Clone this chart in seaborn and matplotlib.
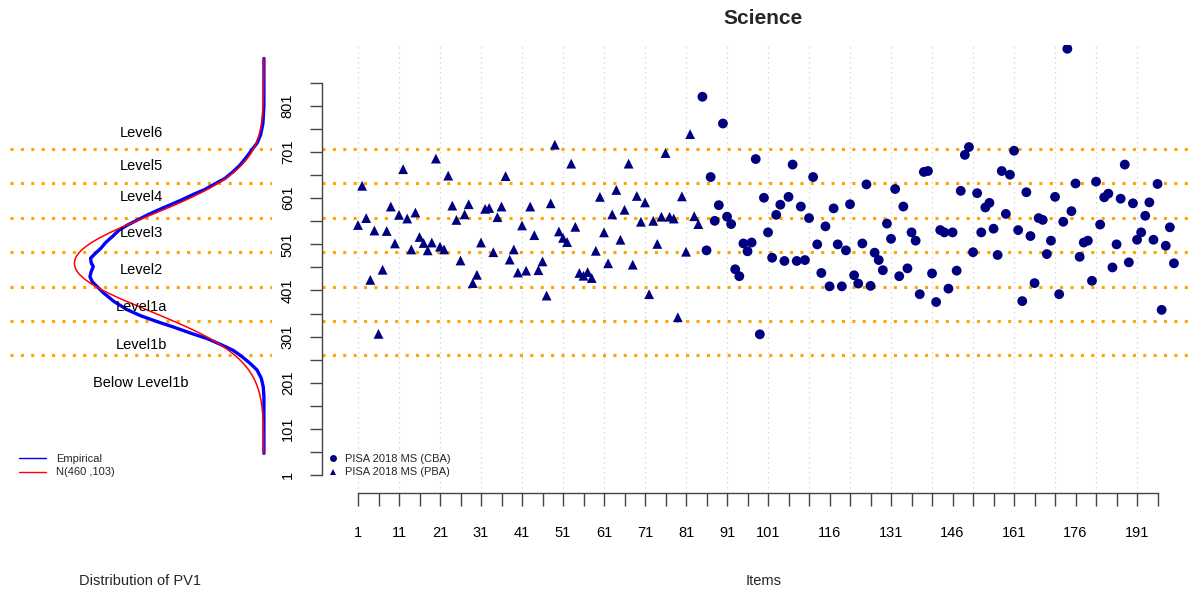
import numpy as np
import pandas as pd
import matplotlib
matplotlib.use("Agg")
import matplotlib.pyplot as plt
import seaborn as sns
from matplotlib.lines import Line2D

sns.set_theme(style="white")
plt.rcParams['font.family'] = ['Liberation Sans', 'DejaVu Sans']

# ---------------- data ----------------
pba_values = [543, 628, 558, 424, 531, 307, 446, 530, 583, 503,
              565, 664, 557, 490, 570, 517, 504, 488, 505, 687,
              496, 490, 650, 585, 554, 466, 566, 588, 417, 435,
              505, 578, 580, 484, 560, 583, 649, 468, 490, 440,
              542, 444, 583, 521, 445, 464, 390, 590, 717, 529,
              515, 506, 676, 539, 439, 433, 441, 428, 487, 604,
              527, 460, 566, 619, 511, 576, 676, 457, 606, 550,
              592, 393, 552, 502, 561, 699, 561, 557, 343, 605,
              485, 740, 562, 545]
cba_values = [821, 488, 647, 552, 586, 763, 561, 545, 447, 432,
              503, 486, 505, 686, 306, 602, 527, 472, 565, 587,
              465, 604, 674, 465, 583, 467, 558, 647, 501, 439,
              540, 410, 579, 501, 410, 488, 588, 434, 416, 503,
              631, 411, 483, 467, 445, 546, 513, 621, 432, 583,
              449, 527, 509, 393, 658, 660, 438, 376, 532, 527,
              405, 527, 444, 617, 695, 712, 484, 612, 527, 581,
              591, 535, 478, 660, 567, 652, 704, 532, 378, 614,
              519, 417, 558, 554, 480, 509, 604, 393, 550, 925,
              573, 633, 474, 505, 509, 422, 637, 544, 603, 611,
              451, 501, 600, 674, 462, 590, 511, 527, 563, 592,
              511, 632, 359, 498, 538, 460]
form_names = ["PISA 2018 MS (CBA)", "PISA 2018 MS (PBA)"]

level_cuts = [260.54, 334.94, 409.54, 484.14, 558.73, 633.33, 707.93]
level_names = ["Below Level1b", "Level1b", "Level1a", "Level2",
               "Level3", "Level4", "Level5", "Level6"]
level_label_y = [200, 283, 366, 445, 525, 604, 671, 742]

emp_score = [904, 836, 800, 763, 738, 720, 706, 691, 673, 659, 644, 632, 620,
             609, 597, 586, 575, 565, 554, 543, 532, 518, 505, 492, 482, 471,
             461, 453, 442, 431, 420, 409, 395, 377, 359, 346, 333, 321, 308,
             296, 283, 271, 258, 243, 229, 211, 192, 171, 149, 48]
emp_density = [0.0, 0.0, 0.0, 0.0000206, 0.0000687, 0.000144, 0.000247,
               0.000350, 0.000488, 0.000625, 0.000797, 0.001003, 0.001209,
               0.001449, 0.001689, 0.001930, 0.002170, 0.002376, 0.002582,
               0.002788, 0.002960, 0.003097, 0.003234, 0.003337, 0.003440,
               0.003543, 0.003530, 0.003488, 0.003530, 0.003557, 0.003509,
               0.003406, 0.003269, 0.003063, 0.002788, 0.002513, 0.002170,
               0.001827, 0.001483, 0.001140, 0.000865, 0.000625, 0.000453,
               0.000282, 0.000144, 0.0000549, 0.0000137, 0.0, 0.0, 0.0]

normal_mean = 460
normal_sd = 103

x_tick_labels = [1, 11, 21, 31, 41, 51, 61, 71, 81, 91, 101,
                 116, 131, 146, 161, 176, 191]
y_tick_labels = [1, 101, 201, 301, 401, 501, 601, 701, 801]

# ---------------- frames ----------------
items = list(range(1, len(pba_values) + len(cba_values) + 1))
df = pd.DataFrame({
    "item": items,
    "score": pba_values + cba_values,
    "form": [form_names[1]] * len(pba_values) + [form_names[0]] * len(cba_values),
})
norm_score = np.linspace(min(emp_score), max(emp_score), 400)
norm_density = np.exp(-0.5 * ((norm_score - normal_mean) / normal_sd) ** 2) / (normal_sd * np.sqrt(2 * np.pi))
dens = pd.concat([
    pd.DataFrame({"score": emp_score, "density": emp_density, "curve": "Empirical"}),
    pd.DataFrame({"score": norm_score, "density": norm_density, "curve": "Normal"}),
])

# ---------------- figure ----------------
W, H = 1195, 595
fig = plt.figure(figsize=(W / 100, H / 100), dpi=100)
top_px, bot_px = 45, 493
axL = fig.add_axes([10 / W, (H - bot_px) / H, 262 / W, (bot_px - top_px) / H])
axR = fig.add_axes([322 / W, (H - bot_px) / H, (1192 - 322) / W, (bot_px - top_px) / H])

ylim = (-38.0, 933.2)
orange = "#FFA500"
navy = "#00007F"

# ---- right panel ----
for gx in range(1, 200, 10):
    axR.axvline(gx, color="#CFCFCF", lw=0.9, ls=(0, (1, 3)), zorder=0)
for c in level_cuts:
    axR.axhline(c, color=orange, lw=2.2, ls=(0, (1, 2.4)), zorder=1)

sns.scatterplot(data=df, x="item", y="score", style="form",
                markers={form_names[0]: "o", form_names[1]: "^"},
                color=navy, s=50, linewidth=0, legend=False, ax=axR, zorder=3)

axR.set_xlim(-7.78, 204.4)
axR.set_ylim(*ylim)
axR.set_xlabel("")
axR.set_ylabel("")
for s in ["top", "right"]:
    axR.spines[s].set_visible(False)
for s in ["left", "bottom"]:
    axR.spines[s].set_color("#444444")
    axR.spines[s].set_linewidth(1.0)
axR.spines["left"].set_bounds(1, 851)
axR.spines["bottom"].set_bounds(1, 196)

axR.set_xticks(x_tick_labels)
axR.set_xticklabels([str(v) for v in x_tick_labels])
axR.set_xticks([v for v in range(1, 197, 5) if v not in x_tick_labels], minor=True)
axR.set_yticks(y_tick_labels)
axR.set_yticklabels([str(v) for v in y_tick_labels], rotation=90, va="center")
axR.set_yticks(list(range(51, 852, 100)), minor=True)
axR.tick_params(axis="x", which="both", direction="out", length=9.5, width=1.0,
                color="#444444", pad=14, labelsize=10.5, labelcolor="black", bottom=True)
axR.tick_params(axis="y", which="both", direction="out", length=8.6, width=1.0,
                color="#444444", pad=11, labelsize=10.5, labelcolor="black", left=True)
axR.grid(False)

handles_r = [
    Line2D([], [], marker="o", color=navy, ls="none", markersize=5, markeredgewidth=0),
    Line2D([], [], marker="^", color=navy, ls="none", markersize=5, markeredgewidth=0),
]
axR.legend(handles_r, form_names, loc="upper left", bbox_to_anchor=(0.008, 0.088),
           frameon=False, fontsize=8, handlelength=0.8, handletextpad=0.6,
           borderaxespad=0, borderpad=0, labelspacing=0.35)

# ---- left panel ----
for c in level_cuts:
    axL.axhline(c, color=orange, lw=2.2, ls=(0, (1, 2.4)), zorder=1)
sns.lineplot(data=dens[dens.curve == "Normal"], x="density", y="score", orient="y",
             sort=False, estimator=None, color="red", lw=1.1, ax=axL, zorder=3)
sns.lineplot(data=dens[dens.curve == "Empirical"], x="density", y="score", orient="y",
             sort=False, estimator=None, color="blue", lw=2.4, ax=axL, zorder=2)
axL.set_xlim(0.00519, -0.000165)
axL.set_ylim(*ylim)
axL.set_axis_off()
for name, ly in zip(level_names, level_label_y):
    axL.text(0.00251, ly, name, ha="center", va="center", fontsize=10.5, color="black")

handles_l = [Line2D([], [], color="blue", lw=1.0), Line2D([], [], color="red", lw=1.0)]
axL.legend(handles_l, ["Empirical", f"N({normal_mean} ,{normal_sd})"], loc="upper left",
           bbox_to_anchor=(0.035, 0.088), frameon=False, fontsize=8, handlelength=2.4,
           handletextpad=0.9, borderaxespad=0, borderpad=0, labelspacing=0.35)

# ---- texts ----
fig.text(763 / W, 1 - 18 / H, "Science", ha="center", va="center",
         fontsize=15, fontweight="bold")
fig.text(764 / W, 1 - 581 / H, "Items", ha="center", va="center", fontsize=10.5)
fig.text(140 / W, 1 - 581 / H, "Distribution of PV1", ha="center", va="center", fontsize=10.5)

fig.savefig("out.png", dpi=100)
